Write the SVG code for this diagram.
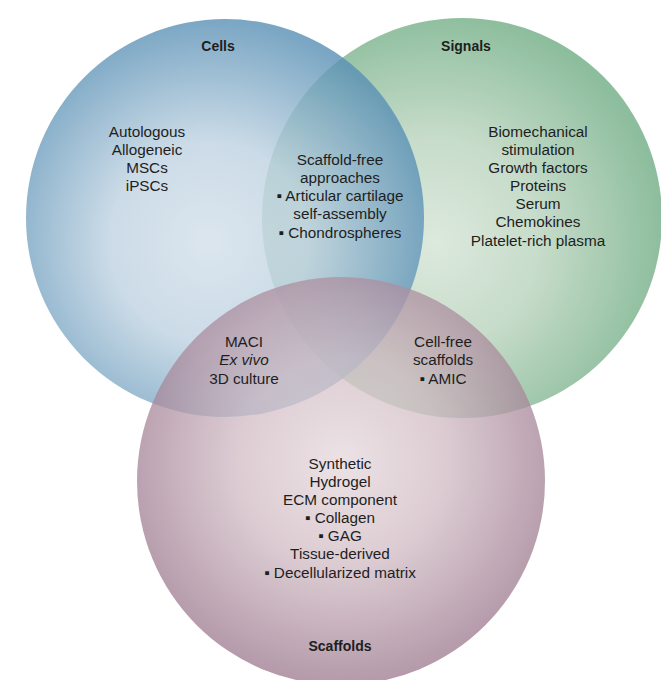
<svg xmlns="http://www.w3.org/2000/svg" width="661" height="680" viewBox="0 0 661 680">
<style>
text{font-family:"Liberation Sans",Arial,sans-serif;font-size:15.3px;fill:#1e1e1e;text-anchor:middle}
.t{font-weight:bold;font-size:14px}
.i{font-style:italic}
</style>
<defs>
<radialGradient id="gc" cx="0.46" cy="0.56" r="0.56">
<stop offset="0" stop-color="#d3e0ea"/>
<stop offset="0.45" stop-color="#bed2e1"/>
<stop offset="1" stop-color="#5990b5"/>
</radialGradient>
<radialGradient id="gs" cx="0.43" cy="0.56" r="0.58">
<stop offset="0" stop-color="#dce9dd"/>
<stop offset="0.45" stop-color="#c7dcca"/>
<stop offset="1" stop-color="#8cbd9c"/>
</radialGradient>
<radialGradient id="gf" cx="0.5" cy="0.45" r="0.56">
<stop offset="0" stop-color="#e5d8dc"/>
<stop offset="0.45" stop-color="#d1bcc4"/>
<stop offset="1" stop-color="#99758b"/>
</radialGradient>
</defs>
<rect width="661" height="680" fill="#ffffff"/>
<g id="signals">
<circle cx="462" cy="218" r="200" fill="url(#gs)"/>
</g>
<g id="cells">
<circle cx="225" cy="218" r="199" fill="url(#gc)" opacity="0.8"/>
</g>
<g id="scaffolds">
<circle cx="341" cy="481" r="204" fill="url(#gf)" opacity="0.75"/>
</g>
<g id="connectors"></g>
<g id="labels">
<text class="t" x="218" y="51">Cells</text>
<text class="t" x="466" y="51">Signals</text>
<text class="t" x="340" y="651">Scaffolds</text>
<text x="147" y="137">Autologous</text>
<text x="147" y="155">Allogeneic</text>
<text x="147" y="173">MSCs</text>
<text x="147" y="191">iPSCs</text>
<text x="340" y="165">Scaffold-free</text>
<text x="340" y="183">approaches</text>
<text x="340" y="201">▪ Articular cartilage</text>
<text x="340" y="219">self-assembly</text>
<text x="340" y="238">▪ Chondrospheres</text>
<text x="538" y="137">Biomechanical</text>
<text x="538" y="155">stimulation</text>
<text x="538" y="173">Growth factors</text>
<text x="538" y="191">Proteins</text>
<text x="538" y="209">Serum</text>
<text x="538" y="227">Chemokines</text>
<text x="538" y="246">Platelet-rich plasma</text>
<text x="244" y="347">MACI</text>
<text x="244" y="365" class="i">Ex vivo</text>
<text x="244" y="384">3D culture</text>
<text x="443" y="347">Cell-free</text>
<text x="443" y="365">scaffolds</text>
<text x="443" y="384">▪ AMIC</text>
<text x="340" y="469">Synthetic</text>
<text x="340" y="487">Hydrogel</text>
<text x="340" y="505">ECM component</text>
<text x="340" y="523">▪ Collagen</text>
<text x="340" y="541">▪ GAG</text>
<text x="340" y="559">Tissue-derived</text>
<text x="340" y="578">▪ Decellularized matrix</text>
</g>
</svg>
